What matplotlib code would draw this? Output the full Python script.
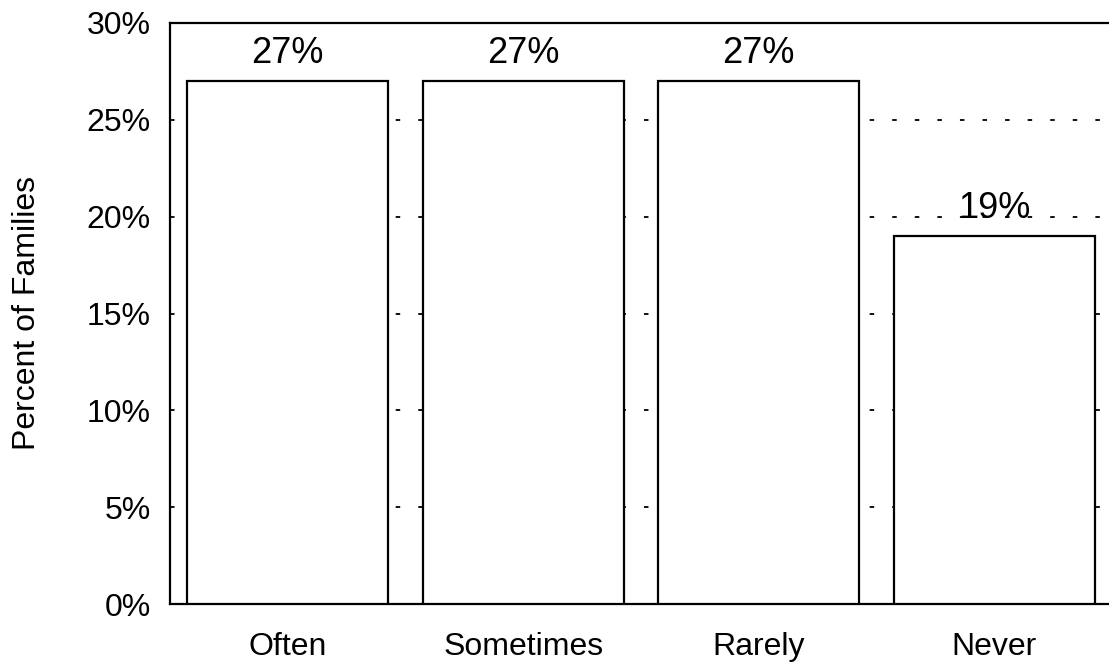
import matplotlib.pyplot as plt
from matplotlib.ticker import FuncFormatter

plt.rcParams['font.family'] = ['Liberation Sans', 'DejaVu Sans']

# Data
categories = ['Often', 'Sometimes', 'Rarely', 'Never']
percents = [27, 27, 27, 19]
bar_labels = ['27%', '27%', '27%', '19%']

fig = plt.figure(figsize=(11.09, 6.63), dpi=100)
# right edge falls just past the image, as in the original
ax = fig.add_axes([170 / 1109, 59 / 663, (1112 - 170) / 1109, (604 - 23) / 663])

x = range(len(categories))
bars = ax.bar(x, percents, width=0.855, color='white', edgecolor='black',
              linewidth=1.6, zorder=3)

for xi, val, lab in zip(x, percents, bar_labels):
    ax.text(xi, val + 0.5, lab, ha='center', va='bottom', fontsize=26, zorder=4)

ax.set_xlim(-0.5, 3.5)
ax.set_ylim(0, 30)
ax.set_yticks(range(0, 31, 5))
ax.yaxis.set_major_formatter(FuncFormatter(lambda v, p: f"{v:.0f}%"))
ax.set_xticks(list(x))
ax.set_xticklabels(categories)

# dotted gridlines behind the bars
for yv in range(5, 30, 5):
    ax.axhline(yv, color='black', linewidth=1.3, linestyle=(0, (2.5, 10)), zorder=1)

ax.tick_params(axis='y', length=0, labelsize=23, pad=14)
ax.tick_params(axis='x', length=0, labelsize=23, pad=20)
ax.set_ylabel('Percent of Families', fontsize=23, labelpad=32)

for side in ['left', 'top', 'bottom', 'right']:
    ax.spines[side].set_linewidth(1.6)
    ax.spines[side].set_color('black')

fig.savefig('out.png', dpi=100)
